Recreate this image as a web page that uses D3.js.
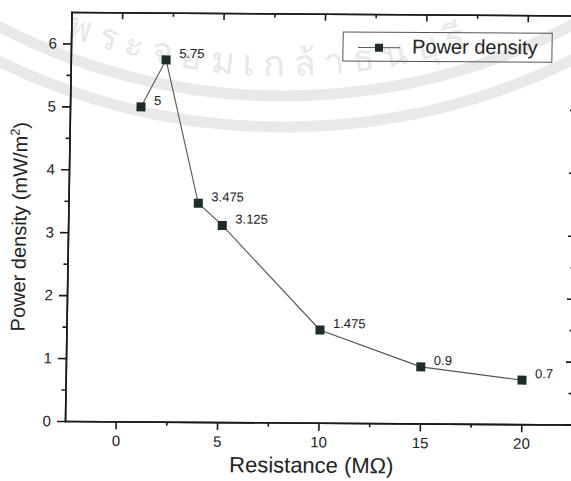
<!DOCTYPE html>
<html>
<head>
<meta charset="utf-8">
<script src="https://d3js.org/d3.v7.min.js"></script>
<style>
body { margin: 0; background: #fff; }
text { font-family: "Liberation Sans", Arial, sans-serif; fill: #222; }
.axis path, .axis line { stroke: #1a1a1a; stroke-width: 1.6; }
.axis text { font-size: 15px; fill: #222; font-family: "Liberation Sans", Arial, sans-serif; }
</style>
</head>
<body>
<div id="chart"></div>
<script>

// data
var resistance   = [1, 2.2, 3.9, 5.1, 10, 15, 20];
var powerDensity = [5, 5.75, 3.475, 3.125, 1.475, 0.9, 0.7];
var pointLabels  = ["5", "5.75", "3.475", "3.125", "1.475", "0.9", "0.7"];
var xTicks = [0, 5, 10, 15, 20];
var xMinor = [2.5, 7.5, 12.5, 17.5];
var yTicks = [0, 1, 2, 3, 4, 5, 6];
var yMinor = [0.5, 1.5, 2.5, 3.5, 4.5, 5.5];
var seriesName = "Power density";

var width = 571, height = 481;
var pLeft = 65, pRight = 572, pTop = 12, pBottom = 421;

var svg = d3.select("#chart").append("svg")
    .attr("width", width)
    .attr("height", height);

// faint watermark of the scanned page
var wm = svg.append("g").attr("fill", "none").attr("stroke", "#e9e9e9");
[620, 651].forEach(function(r) {
  var p = d3.path();
  p.arc(284, -524, r, Math.PI * 0.22, Math.PI * 0.78);
  wm.append("path").attr("d", p.toString()).attr("stroke-width", 11);
});
var tp = d3.path();
tp.arc(284, -524, 600, Math.PI * 0.79, Math.PI * 0.21, true);
svg.append("defs").append("path").attr("id", "wmArc").attr("d", tp.toString());
svg.append("text")
    .style("font-size", "36px")
    .style("fill", "#e8e8e8")
    .style("letter-spacing", "9px")
    .append("textPath")
    .attr("href", "#wmArc")
    .attr("startOffset", 322)
    .text("พระจอมเกล้าธนบุรี");

// the scan is slightly sheared
var g = svg.append("g")
    .attr("transform", "matrix(1,0.007,-0.016,1," + (0.016 * pBottom) + "," + (-0.007 * pLeft) + ")");

var x = d3.scaleLinear().domain([-2.5, 22.5]).range([pLeft, pRight]);
var y = d3.scaleLinear().domain([0, 6.5]).range([pBottom, pTop]);

// bottom
g.append("g").attr("class", "axis")
    .attr("transform", "translate(0," + pBottom + ")")
    .call(d3.axisBottom(x).tickValues(xMinor).tickSize(4).tickFormat("").tickSizeOuter(0));
g.append("g").attr("class", "axis")
    .attr("transform", "translate(0," + pBottom + ")")
    .call(d3.axisBottom(x).tickValues(xTicks).tickSize(8).tickPadding(6).tickFormat(d3.format("d")).tickSizeOuter(0));
// left
g.append("g").attr("class", "axis")
    .attr("transform", "translate(" + pLeft + ",0)")
    .call(d3.axisLeft(y).tickValues(yMinor).tickSize(4).tickFormat("").tickSizeOuter(0));
g.append("g").attr("class", "axis")
    .attr("transform", "translate(" + pLeft + ",0)")
    .call(d3.axisLeft(y).tickValues(yTicks).tickSize(8).tickPadding(6).tickFormat(d3.format("d")).tickSizeOuter(0));
// top, ticks inward
g.append("g").attr("class", "axis")
    .attr("transform", "translate(0," + pTop + ")")
    .call(d3.axisTop(x).tickValues(xMinor).tickSize(-4).tickFormat("").tickSizeOuter(0));
g.append("g").attr("class", "axis")
    .attr("transform", "translate(0," + pTop + ")")
    .call(d3.axisTop(x).tickValues(xTicks).tickSize(-7).tickFormat("").tickSizeOuter(0));
// right, ticks inward
g.append("g").attr("class", "axis")
    .attr("transform", "translate(" + pRight + ",0)")
    .call(d3.axisRight(y).tickValues(yMinor).tickSize(-4).tickFormat("").tickSizeOuter(0));
g.append("g").attr("class", "axis")
    .attr("transform", "translate(" + pRight + ",0)")
    .call(d3.axisRight(y).tickValues(yTicks).tickSize(-7).tickFormat("").tickSizeOuter(0));

g.selectAll(".axis .domain").attr("stroke-linecap", "square");

// titles
g.append("text")
    .attr("x", 312)
    .attr("y", 471)
    .attr("text-anchor", "middle")
    .style("font-size", "22px")
    .text("Resistance (MΩ)");

var yt = g.append("text")
    .attr("transform", "translate(23,227) rotate(-90)")
    .attr("text-anchor", "middle")
    .style("font-size", "20px");
yt.append("tspan").text("Power density (mW/m");
yt.append("tspan").attr("dy", -8).style("font-size", "13px").text("2");
yt.append("tspan").attr("dy", 8).text(")");

// series
var pts = resistance.map(function(r, i) { return [r, powerDensity[i], pointLabels[i]]; });

g.append("path")
    .datum(pts)
    .attr("fill", "none")
    .attr("stroke", "#555")
    .attr("stroke-width", 1.1)
    .attr("d", d3.line().x(function(d) { return x(d[0]); }).y(function(d) { return y(d[1]); }));

g.selectAll("rect.pt")
  .data(pts)
  .enter().append("rect")
    .attr("class", "pt")
    .attr("x", function(d) { return x(d[0]) - 4.5; })
    .attr("y", function(d) { return y(d[1]) - 4.5; })
    .attr("width", 9)
    .attr("height", 9)
    .attr("fill", "#1e2b2b");

g.selectAll("text.lbl")
  .data(pts)
  .enter().append("text")
    .attr("class", "lbl")
    .attr("x", function(d) { return x(d[0]) + 13; })
    .attr("y", function(d) { return y(d[1]) - 2; })
    .style("font-size", "13px")
    .text(function(d) { return d[2]; });

// legend
var lg = g.append("g").attr("transform", "translate(337,30)");
lg.append("rect")
    .attr("width", 209)
    .attr("height", 29)
    .attr("fill", "none")
    .attr("stroke", "#555")
    .attr("stroke-width", 1);
lg.append("line")
    .attr("x1", 15).attr("x2", 57)
    .attr("y1", 15.5).attr("y2", 15.5)
    .attr("stroke", "#555").attr("stroke-width", 1.1);
lg.append("rect")
    .attr("x", 32).attr("y", 11.5)
    .attr("width", 8).attr("height", 8)
    .attr("fill", "#1e2b2b");
lg.append("text")
    .attr("x", 69)
    .attr("y", 21)
    .style("font-size", "20px")
    .text(seriesName);

</script>
</body>
</html>
